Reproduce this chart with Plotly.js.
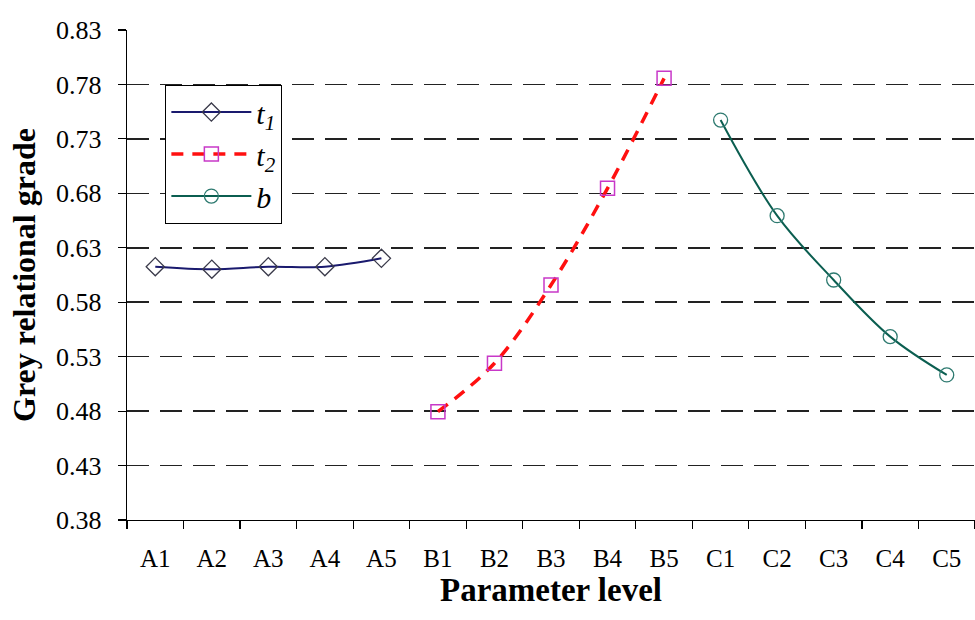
<!DOCTYPE html>
<html>
<head>
<meta charset="utf-8">
<script src="https://cdn.plot.ly/plotly-3.0.1.min.js"></script>
<style>html,body{margin:0;padding:0;background:#fff;}#chart{width:975px;height:620px;}</style>
</head>
<body>
<div id="chart"></div>
<script>
const levelsA = ["A1","A2","A3","A4","A5"];
const levelsB = ["B1","B2","B3","B4","B5"];
const levelsC = ["C1","C2","C3","C4","C5"];
const allLevels = levelsA.concat(levelsB, levelsC);
const t1Values = [0.6126, 0.6103, 0.6126, 0.6126, 0.6203];
const t2Values = [0.4795, 0.5239, 0.5958, 0.6846, 0.7856];
const bValues  = [0.7473, 0.6595, 0.6004, 0.5484, 0.5132];
const yTicks = [0.38, 0.43, 0.48, 0.53, 0.58, 0.63, 0.68, 0.73, 0.78, 0.83];
const yTickText = yTicks.map(v => v.toFixed(2));

const serif = "Liberation Serif, Times New Roman, serif";

const traces = [
  {x: levelsA, y: t1Values, name: "<i>t<sub>1</sub></i>", type: "scatter", mode: "lines+markers",
   line: {color: "#1a1a6e", width: 2, shape: "spline"},
   marker: {symbol: "diamond-open", size: 14, color: "#3a3a4a", line: {width: 1.3}}},
  {x: levelsB, y: t2Values, name: "<i>t<sub>2</sub></i>", type: "scatter", mode: "lines+markers",
   line: {color: "#ff1010", width: 3.5, dash: "12px,9px", shape: "spline"},
   marker: {symbol: "square-open", size: 14, color: "#c838c8", line: {width: 1.5}}},
  {x: levelsC, y: bValues, name: "<i>b</i>", type: "scatter", mode: "lines+markers",
   line: {color: "#0b5e50", width: 2, shape: "spline"},
   marker: {symbol: "circle-open", size: 14, color: "#2e7a70", line: {width: 1.3}}}
];

const layout = {
  width: 975, height: 620,
  margin: {l: 127, r: 0, t: 30, b: 100},
  paper_bgcolor: "#fff", plot_bgcolor: "#fff",
  font: {family: serif, color: "#000", size: 26},
  showlegend: true,
  legend: {x: 0.045, y: 0.888, xanchor: "left", yanchor: "top",
           bordercolor: "#000", borderwidth: 1.2, bgcolor: "#fff",
           font: {family: serif, size: 30, color: "#000"}, itemwidth: 80},
  xaxis: {type: "category", categoryorder: "array", categoryarray: allLevels,
          range: [-0.5, 14.5], showline: true, linecolor: "#000", linewidth: 1.2,
          ticks: "outside", ticklen: 8, tickcolor: "#000", tickwidth: 1.2,
          tickson: "boundaries", showgrid: false, zeroline: false, ticklabelstandoff: 16,
          tickfont: {family: serif, size: 25, color: "#000"},
          title: {text: "<b>Parameter level</b>", font: {family: serif, size: 33, color: "#000"}, standoff: 0}},
  yaxis: {range: [0.38, 0.83], tickvals: yTicks, ticktext: yTickText,
          showline: true, linecolor: "#000", linewidth: 1.2,
          ticks: "outside", ticklen: 8, tickcolor: "#000", tickwidth: 1.2,
          showgrid: true, gridcolor: "#222", gridwidth: 1.6, griddash: "22px,11px",
          zeroline: false, ticklabelstandoff: 11, tickfont: {family: serif, size: 26, color: "#000"},
          title: {text: "<b>Grey relational grade</b>", font: {family: serif, size: 32, color: "#000"}, standoff: 10}}
};

Plotly.newPlot("chart", traces, layout, {displayModeBar: false, staticPlot: true});
</script>
</body>
</html>
